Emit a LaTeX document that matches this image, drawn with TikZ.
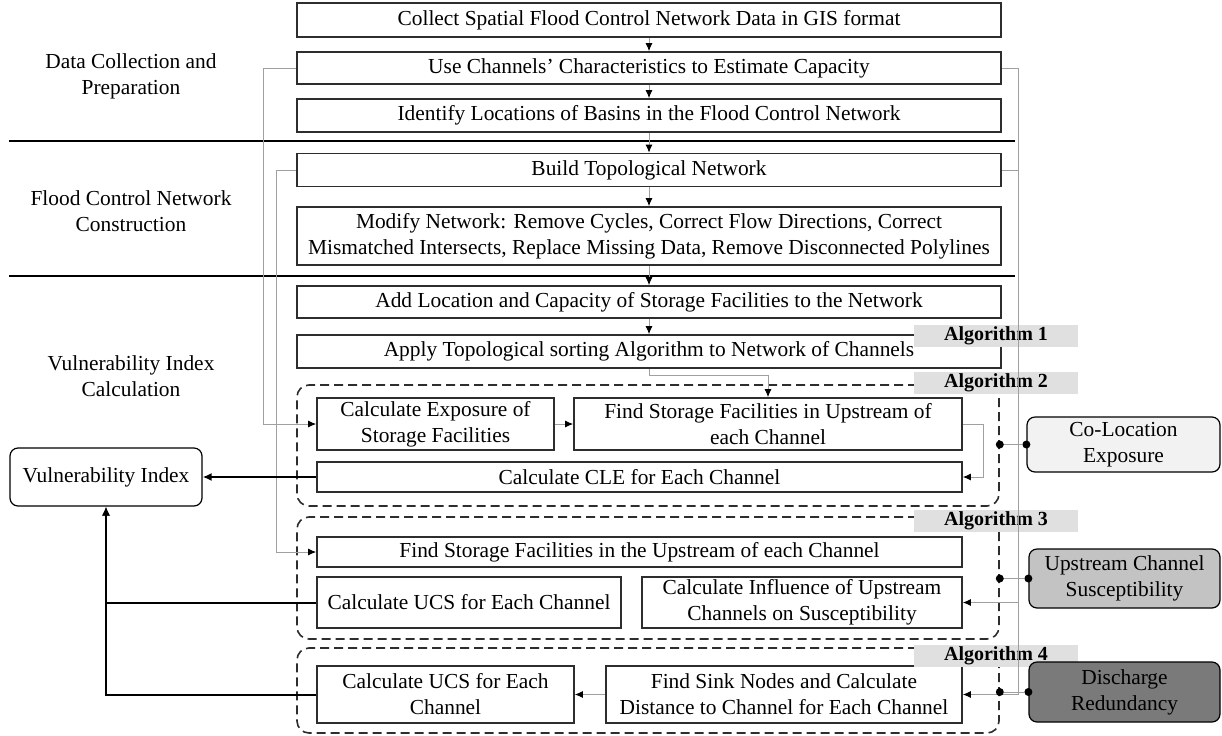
\documentclass[tikz,border=0pt]{standalone}
\usepackage{fontspec}
\setmainfont{Liberation Serif}
\definecolor{connGray}{RGB}{160, 160, 160}
\definecolor{edgeDark}{RGB}{45, 45, 45}
\definecolor{algoGray}{RGB}{224, 224, 224}
\definecolor{propLight}{RGB}{242, 242, 242}
\definecolor{propMid}{RGB}{195, 195, 195}
\definecolor{propDark}{RGB}{122, 122, 122}
\usetikzlibrary{arrows.meta, positioning, calc}

\begin{document}
\begin{tikzpicture}[x=0.5pt, y=-0.5pt,
        every node/.style={font=\fontsize{10.7}{13}\selectfont},
        box/.style={draw=edgeDark, line width=0.8pt, fill=white, align=center, inner sep=0pt},
        grp/.style={draw=edgeDark, line width=0.8pt, dash pattern=on 4.5pt off 2.5pt, rounded corners=6pt, inner sep=0pt},
        prop/.style={draw=black, line width=0.6pt, rounded corners=4pt, align=center, inner sep=0pt},
        algo/.style={fill=algoGray, inner sep=0pt, minimum width=82pt, minimum height=11pt, font=\fontsize{10}{12}\selectfont\bfseries},
        conn/.style={draw=connGray, line width=0.5pt, -{Latex[color=black, length=4pt, width=3.5pt]}},
        thickconn/.style={draw=black, line width=1pt, -{Latex[length=4.5pt, width=4pt]}},
        dot/.style={circle, fill=black, inner sep=0pt, minimum size=4pt}]
                \useasboundingbox (0,0) rectangle (1222,735);

                % Phase separators and phase names
                \draw[line width=0.6pt] (9,141) -- (1015,141);
                \draw[line width=0.6pt] (9,276) -- (1015,276);
                \node[align=center] (secData) at (131,76) {Data Collection and\\Preparation};
                \node[align=center] (secNet) at (131,211) {Flood Control Network\\Construction};
                \node[align=center] (secVul) at (131,376) {Vulnerability Index\\Calculation};

                % Main column
                \node[box, minimum width=352pt, minimum height=17pt] (c1) at (649,20) {Collect Spatial Flood Control Network Data in GIS format};
                \node[box, minimum width=352pt, minimum height=16pt] (c2) at (649,68) {Use Channels' Characteristics to Estimate Capacity};
                \node[box, minimum width=352pt, minimum height=16.5pt] (c3) at (649,115.5) {Identify Locations of Basins in the Flood Control Network};
                \node[box, minimum width=352pt, minimum height=16.5pt] (c4) at (649,170) {Build Topological Network};
                \node[box, minimum width=352pt, minimum height=29pt] (c5) at (649,236) {Modify Network: Remove Cycles, Correct Flow Directions, Correct\\Mismatched Intersects, Replace Missing Data, Remove Disconnected Polylines};
                \node[box, minimum width=352pt, minimum height=16pt] (c6) at (649,302) {Add Location and Capacity of Storage Facilities to the Network};
                \node[box, minimum width=352pt, minimum height=16.5pt] (c7) at (649,351.5) {Apply Topological sorting Algorithm to Network of Channels};

                % Algorithm groups
                \node[grp, minimum width=351pt, minimum height=60.5pt] (grp1) at (648,445.5) {};
                \node[grp, minimum width=351pt, minimum height=61pt] (grp2) at (648,578) {};
                \node[grp, minimum width=351pt, minimum height=42.5pt] (grp3) at (648,690.5) {};

                % Group 1
                \node[box, minimum width=118.5pt, minimum height=26pt] (e1) at (435.5,424) {Calculate Exposure of\\Storage Facilities};
                \node[box, minimum width=194pt, minimum height=26pt] (e2) at (768,424) {Find Storage Facilities in Upstream of\\each Channel};
                \node[box, minimum width=322.5pt, minimum height=15pt] (cle) at (639.5,477) {Calculate CLE for Each Channel};

                % Group 2
                \node[box, minimum width=322.5pt, minimum height=15pt] (f1) at (639.5,552) {Find Storage Facilities in the Upstream of each Channel};
                \node[box, minimum width=152pt, minimum height=25.5pt] (u1) at (469,602.5) {Calculate UCS for Each Channel};
                \node[box, minimum width=160pt, minimum height=25.5pt] (inf) at (802,602.5) {Calculate Influence of Upstream\\Channels on Susceptibility};

                % Group 3
                \node[box, minimum width=128.5pt, minimum height=28.5pt] (g1) at (445.5,694.5) {Calculate UCS for Each\\Channel};
                \node[box, minimum width=178pt, minimum height=28.5pt] (sink) at (784,694.5) {Find Sink Nodes and Calculate\\Distance to Channel for Each Channel};

                % Algorithm tags
                \node[algo] (alg1) at (996,336) {Algorithm 1};
                \node[algo] (alg2) at (996,383) {Algorithm 2};
                \node[algo] (alg3) at (996,521) {Algorithm 3};
                \node[algo] (alg4) at (996,656) {Algorithm 4};

                % Index and its components
                \node[prop, fill=white, minimum width=96pt, minimum height=29pt] (vi) at (106,477) {Vulnerability Index};
                \node[prop, fill=propLight, minimum width=96.5pt, minimum height=27.5pt] (colo) at (1123.5,444.5) {Co-Location\\Exposure};
                \node[prop, fill=propMid, minimum width=95.5pt, minimum height=29.5pt] (ucs) at (1124.5,578.5) {Upstream Channel\\Susceptibility};
                \node[prop, fill=propDark, minimum width=95.5pt, minimum height=30pt] (dis) at (1124.5,692) {Discharge\\Redundancy};

                % Flow in main column
                \draw[conn] (c1) -- (c2);
                \draw[conn] (c2) -- (c3);
                \draw[conn] (c3) -- (c4);
                \draw[conn] (c4) -- (c5);
                \draw[conn] (c5) -- (c6);
                \draw[conn] (c6) -- (c7);
                \draw[conn] (c7.south) -- ++(0,7) -| (e2.north);

                % Flow inside groups
                \draw[conn] (e1) -- (e2);
                \draw[conn] (e2.east) -- ++(21,0) |- (cle.east);
                \draw[conn] (sink) -- (g1);

                % Side rails
                \coordinate (railL1) at (263,0);
                \coordinate (railL2) at (276,0);
                \coordinate (railR) at (1018,0);
                \draw[conn] (c2.west) -- (c2.west -| railL1) |- (e1.west);
                \draw[conn] (c4.west) -- (c4.west -| railL2) |- (f1.west);
                \draw[conn] (c2.east) -- (c2.east -| railR) |- (sink.east);
                \draw[conn] (c4.east) -- (c4.east -| railR) |- (inf.east);

                % Results to the index
                \draw[thickconn] (cle.west) -- (vi.east);
                \draw[thickconn] (u1.west) -| (vi.south);
                \draw[thickconn] (g1.west) -| (vi.south);

                % Groups to components
                \node[dot] (d1a) at (grp1.east |- colo.west) {};
                \node[dot] (d1b) at (colo.west) {};
                \node[dot] (d2a) at (grp2.east |- ucs.west) {};
                \node[dot] (d2b) at (ucs.west) {};
                \node[dot] (d3a) at (grp3.east |- dis.west) {};
                \node[dot] (d3b) at (dis.west) {};
                \draw[connGray, line width=0.5pt] (d1a) -- (d1b);
                \draw[connGray, line width=0.5pt] (d2a) -- (d2b);
                \draw[connGray, line width=0.5pt] (d3a) -- (d3b);
            \end{tikzpicture}
\end{document}
